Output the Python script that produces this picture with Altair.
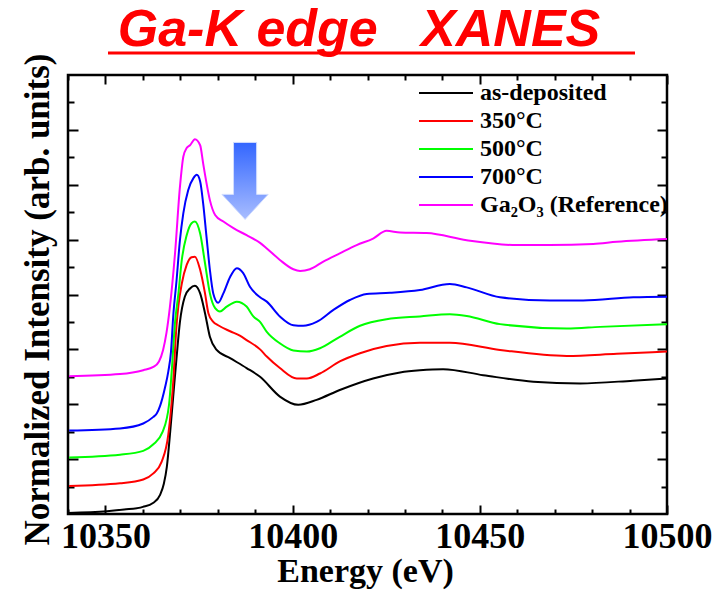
import altair as alt
import pandas as pd

# ---------------- data ----------------
series_names = ["as-deposited", "350°C", "500°C", "700°C", "Ga₂O₃ (Reference)"]
series_colors = ["#000000", "#ff0000", "#00ff00", "#0000ff", "#ff00ff"]
chart_title = "Ga-K edge\u00a0\u00a0\u00a0XANES"

e_black = [10340.0, 10350.4, 10355.0, 10360.0, 10362.7, 10364.6, 10365.6, 10366.4, 10367.3, 10368.1,
           10369.0, 10369.9, 10371.2, 10372.6, 10373.9, 10375.3, 10376.6, 10377.9, 10379.7, 10383.3,
           10387.7, 10391.3, 10396.6, 10401.5, 10406.4, 10412.6, 10421.5, 10428.7, 10434.0, 10440.2,
           10450.9, 10464.3, 10476.8, 10490.9, 10500.0]
v_black = [0.02, 0.05, 0.08, 0.13, 0.20, 0.35, 0.55, 0.86, 1.5, 2.14,
           2.85, 3.5, 3.96, 4.11, 4.16, 4.02, 3.66, 3.23, 2.99, 2.84,
           2.66, 2.50, 2.14, 1.99, 2.08, 2.26, 2.47, 2.58, 2.62, 2.64,
           2.53, 2.41, 2.38, 2.43, 2.47]

e_red = [10340.3, 10353.9, 10360.1, 10362.8, 10365.0, 10366.8, 10368.1, 10369.0, 10369.5, 10370.4,
         10371.7, 10373.0, 10373.9, 10375.3, 10376.6, 10377.5, 10378.8, 10380.1, 10383.3, 10385.9,
         10387.7, 10391.3, 10393.1, 10396.6, 10401.1, 10403.8, 10407.3, 10412.6, 10418.0, 10425.1,
         10434.0, 10442.0, 10455.4, 10473.2, 10486.6, 10500.0]
v_red = [0.51, 0.56, 0.63, 0.74, 0.95, 1.45, 2.4, 3.45, 3.8, 4.20,
         4.54, 4.68, 4.69, 4.45, 4.02, 3.66, 3.50, 3.44, 3.33, 3.25,
         3.17, 3.0, 2.87, 2.66, 2.47, 2.47, 2.56, 2.78, 2.93, 3.06,
         3.12, 3.12, 2.99, 2.88, 2.92, 2.96]

e_green = [10340.3, 10353.9, 10360.1, 10362.8, 10365.3, 10367.0, 10367.7, 10368.6, 10369.5, 10370.4,
           10371.7, 10373.0, 10373.9, 10375.3, 10376.6, 10377.9, 10379.3, 10380.6, 10382.4, 10385.1,
           10387.7, 10389.5, 10391.3, 10393.1, 10396.6, 10400.2, 10403.8, 10407.3, 10412.6, 10418.0,
           10425.1, 10434.0, 10442.0, 10446.5, 10455.4, 10473.2, 10482.1, 10500.0]
v_green = [1.03, 1.08, 1.15, 1.27, 1.50, 2.0, 2.6, 3.5, 4.02, 4.63,
           5.08, 5.30, 5.33, 5.11, 4.57, 4.02, 3.75, 3.69, 3.78, 3.87,
           3.78, 3.6, 3.5, 3.32, 3.11, 2.98, 2.96, 3.02, 3.23, 3.43,
           3.55, 3.60, 3.64, 3.61, 3.46, 3.38, 3.41, 3.46]

e_blue = [10340.3, 10353.9, 10360.1, 10362.8, 10363.7, 10364.6, 10365.9, 10366.8, 10367.5, 10368.1,
          10369.0, 10369.9, 10370.8, 10372.1, 10373.5, 10374.4, 10375.3, 10376.1, 10377.0, 10377.9,
          10378.8, 10380.1, 10381.5, 10383.3, 10385.1, 10386.8, 10388.6, 10391.3, 10393.1, 10396.6,
          10400.2, 10402.8, 10406.4, 10410.9, 10415.3, 10419.8, 10426.0, 10434.0, 10442.0, 10446.5,
          10455.4, 10468.7, 10477.6, 10491.0, 10500.0]
v_blue = [1.52, 1.56, 1.65, 1.77, 1.83, 1.97, 2.3, 2.6, 2.95, 3.6,
          4.26, 4.99, 5.48, 5.90, 6.12, 6.18, 6.06, 5.66, 5.05, 4.45,
          4.02, 3.85, 4.02, 4.32, 4.48, 4.39, 4.14, 3.95, 3.87, 3.60,
          3.44, 3.43, 3.50, 3.72, 3.90, 4.01, 4.03, 4.08, 4.19, 4.13,
          3.95, 3.89, 3.89, 3.95, 3.96]

e_ref = [10340.3, 10353.9, 10360.1, 10362.8, 10364.3, 10365.4, 10366.3, 10367.2, 10368.6, 10369.9,
         10370.8, 10371.7, 10372.6, 10373.9, 10375.3, 10376.1, 10377.0, 10377.9, 10379.3, 10381.5,
         10384.2, 10387.7, 10391.3, 10393.1, 10396.6, 10400.2, 10402.0, 10404.6, 10408.2, 10412.6,
         10417.1, 10421.5, 10425.1, 10428.7, 10435.8, 10446.5, 10459.8, 10468.7, 10480.3, 10486.6,
         10500.0]
v_ref = [2.51, 2.55, 2.62, 2.68, 2.78, 2.99, 3.3, 3.76, 4.76, 5.96,
         6.51, 6.67, 6.72, 6.83, 6.72, 6.39, 6.03, 5.72, 5.45, 5.33,
         5.21, 5.08, 4.94, 4.84, 4.63, 4.46, 4.43, 4.46, 4.60, 4.75,
         4.90, 5.02, 5.16, 5.13, 5.12, 4.99, 4.90, 4.90, 4.92, 4.96,
         5.01]

x_major = [10350, 10400, 10450, 10500]
x_minor = [10340, 10360, 10370, 10380, 10390, 10410, 10420, 10430, 10440, 10460, 10470, 10480, 10490]
y_major = [1, 2, 3, 4, 5, 6, 7]
y_minor = [0.5, 1.5, 2.5, 3.5, 4.5, 5.5, 6.5, 7.5]

arrow_energy = [10387.3]
arrow_value = [6.07]

# ---------------- build table ----------------
rows = []
for name, es, vs in zip(series_names,
                        [e_black, e_red, e_green, e_blue, e_ref],
                        [v_black, v_red, v_green, v_blue, v_ref]):
    assert len(es) == len(vs), name
    for e, v in zip(es, vs):
        rows.append({"series": name, "energy": e, "value": v})
df = pd.DataFrame(rows)
arrow_df = pd.DataFrame({"energy": arrow_energy, "value": arrow_value})

SERIF = "'Liberation Serif', 'Times New Roman', 'DejaVu Serif', serif"
SANS = "'Liberation Sans', Arial, sans-serif"

xscale = alt.Scale(domain=[10340, 10500], nice=False, zero=False)
yscale = alt.Scale(domain=[0, 8], nice=False, zero=False)


def xaxis(orient, values, size, labels=False, title=False):
    kw = dict(orient=orient, values=values, tickSize=alt.ExprRef(f"{-size}"),
              tickColor="black", tickWidth=2, domain=False, grid=False, labels=labels)
    if labels:
        kw.update(labelFont=SERIF, labelFontSize=36, labelFontWeight="bold", format="d",
                  labelColor="black", labelPadding=14, labelFlush=False)
    if title:
        kw.update(title="Energy (eV)", titleFont=SERIF, titleFontSize=34,
                  titleFontWeight="bold", titleColor="black",
                  titleX=297, titleY=67, titleBaseline="alphabetic", titleAnchor="middle")
    else:
        kw.update(title="")
    return alt.Axis(**kw)


def yaxis(orient, values, size, title=False):
    kw = dict(orient=orient, values=values, tickSize=alt.ExprRef(f"{-size}"),
              tickColor="black", tickWidth=2, domain=False, grid=False, labels=False)
    if title:
        kw.update(title="Normalized Intensity (arb. units)", titleFont=SERIF, titleFontSize=35,
                  titleFontWeight="bold", titleColor="black", titleAngle=-90,
                  titleX=-31, titleY=224, titleBaseline="middle", titleAnchor="middle")
    else:
        kw.update(title="")
    return alt.Axis(**kw)


lines = alt.Chart(df).mark_line(strokeWidth=2, interpolate="monotone").encode(
    x=alt.X("energy:Q", scale=xscale, axis=xaxis("bottom", x_major, 9, labels=True, title=True)),
    y=alt.Y("value:Q", scale=yscale, axis=yaxis("left", y_major, 10, title=True)),
    color=alt.Color(
        "series:N",
        scale=alt.Scale(domain=series_names, range=series_colors),
        sort=series_names,
        legend=alt.Legend(
            title=None, orient="none", legendX=350, legendY=4,
            symbolType="stroke", symbolSize=2916, symbolStrokeWidth=2,
            clipHeight=28, rowPadding=0,
            labelFont=SERIF, labelFontSize=24, labelFontWeight="bold",
            labelColor="black", labelOffset=6, labelLimit=400,
        ),
    ),
)


def ghost(xax, yax):
    return alt.Chart(df).mark_line(opacity=0).encode(
        x=alt.X("energy:Q", scale=xscale, axis=xax),
        y=alt.Y("value:Q", scale=yscale, axis=yax),
    )


g1 = ghost(xaxis("bottom", x_minor, 5), yaxis("left", y_minor, 6))
g2 = ghost(xaxis("top", x_major, 9), yaxis("right", y_major, 10))
g3 = ghost(xaxis("top", x_minor, 5), yaxis("right", y_minor, 6))

arrow_path = "M-0.3,-1 L0.3,-1 L0.3,0.35 L0.6,0.35 L0,1 L-0.6,0.35 L-0.3,0.35 Z"
arrow = alt.Chart(arrow_df).mark_point(
    shape=arrow_path, size=5929, filled=True, opacity=1,
    fill=alt.Gradient(gradient="linear",
                      stops=[alt.GradientStop(color="#3366ff", offset=0),
                             alt.GradientStop(color="#a8bdff", offset=1)],
                      x1=0, x2=0, y1=0, y2=1),
    stroke="#d0dcff", strokeWidth=1,
).encode(
    x=alt.X("energy:Q", scale=xscale, axis=None),
    y=alt.Y("value:Q", scale=yscale, axis=None),
)

# title (red italic heading with underline, above the plot frame)
title_text = alt.Chart(alt.Data(values=[{}])).mark_text(
    text=chart_title, font=SANS, fontSize=52, fontStyle="italic", fontWeight="bold",
    color="#ff0000", align="center", baseline="alphabetic",
).encode(x=alt.value(291), y=alt.value(-29))

underline = alt.Chart(alt.Data(values=[{}])).mark_rule(color="#ff0000", strokeWidth=3).encode(
    x=alt.value(40), x2=alt.value(567), y=alt.value(-22)
)

chart = alt.layer(lines, g1, g2, g3, arrow, title_text, underline).resolve_axis(
    x="independent", y="independent"
).properties(
    width=599, height=439,
    padding={"left": 68, "top": 75, "right": 46, "bottom": 76},
    autosize=alt.AutoSizeParams(type="none"),
).configure_view(stroke="black", strokeWidth=2.5)

chart.save("out.html", embed_options={"renderer": "svg", "actions": False})
